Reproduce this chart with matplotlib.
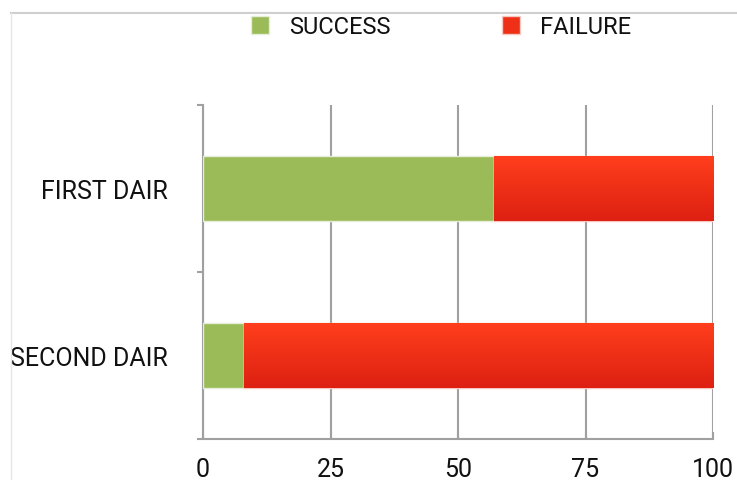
import matplotlib
matplotlib.use("Agg")
import matplotlib.pyplot as plt
import numpy as np
from matplotlib.colors import LinearSegmentedColormap
from matplotlib.lines import Line2D

categories = ["FIRST DAIR", "SECOND DAIR"]
success = [57, 8]
failure = [43, 92]
x_ticks = [0, 25, 50, 75, 100]
series_names = ["SUCCESS", "FAILURE"]

plt.rcParams['font.family'] = ["Roboto", 'DejaVu Sans']

fig = plt.figure(figsize=(7.37, 4.81), dpi=100)
fig.patch.set_facecolor("white")
ax = fig.add_axes([203/737, 1-440/481, 510/737, 334/481])

ypos = np.array([1.5, 0.5])
h = 0.39
green = "#9BBB59"
b1 = ax.barh(ypos, success, height=h, color=green, edgecolor="#E6EED8", linewidth=1.0, zorder=3)
b2 = ax.barh(ypos, failure, left=success, height=h, color="#EE3018", edgecolor="#F7C8C0", linewidth=1.0, zorder=3)

cmap = LinearSegmentedColormap.from_list("red", ["#FF3F1C", "#DD2012"])
grad = np.linspace(0, 1, 256).reshape(-1, 1)
for p in b2:
    x0, y0 = p.get_x(), p.get_y()
    w, hh = p.get_width(), p.get_height()
    im = ax.imshow(grad, cmap=cmap, aspect="auto", extent=[x0, x0 + w, y0, y0 + hh],
                   origin="upper", zorder=3.5)
    im.set_clip_path(p)

ax.set_xlim(0, 100)
ax.set_ylim(0, 2)
ax.set_xticks(x_ticks)
ax.set_xticklabels([str(t) for t in x_ticks], fontsize=18, color="#111111")
ax.set_yticks([0, 1, 2])
ax.set_yticklabels([])
ax.set_yticks(ypos, minor=True)
ax.set_yticklabels(categories, minor=True, fontsize=18, color="#111111")
ax.tick_params(axis="y", which="minor", length=0, pad=25)
ax.tick_params(axis="y", which="major", length=4, color="#A0A0A0", width=1.5)
ax.tick_params(axis="x", length=5, color="#A0A0A0", width=1.5, pad=13, direction="in")
ax.xaxis.grid(True, color="#A0A0A0", linewidth=1.5, zorder=0)
ax.set_axisbelow(True)
for s in ["top", "right"]:
    ax.spines[s].set_visible(False)
for s in ["left", "bottom"]:
    ax.spines[s].set_color("#A0A0A0")
    ax.spines[s].set_linewidth(1.5)

# frame lines of the chart area
fig.add_artist(Line2D([11/737, 1], [1-14/481, 1-14/481], color="#CFCFCF", linewidth=1.5))
fig.add_artist(Line2D([11/737, 11/737], [0, 1-14/481], color="#E6E6E6", linewidth=1.0))

handles = [plt.Rectangle((0, 0), 1, 1, facecolor=green, edgecolor="#E6EED8"),
           plt.Rectangle((0, 0), 1, 1, facecolor="#EE3018", edgecolor="#F7C8C0")]
leg = fig.legend(handles, series_names, loc="center", bbox_to_anchor=(441/737, 1-28/481), ncol=2,
                 frameon=False, fontsize=17, handlelength=0.78, handleheight=0.78,
                 handletextpad=0.85, columnspacing=4.7, borderpad=0, borderaxespad=0)
for t in leg.get_texts():
    t.set_color("#111111")

fig.savefig("out.png", dpi=100, facecolor="white")
